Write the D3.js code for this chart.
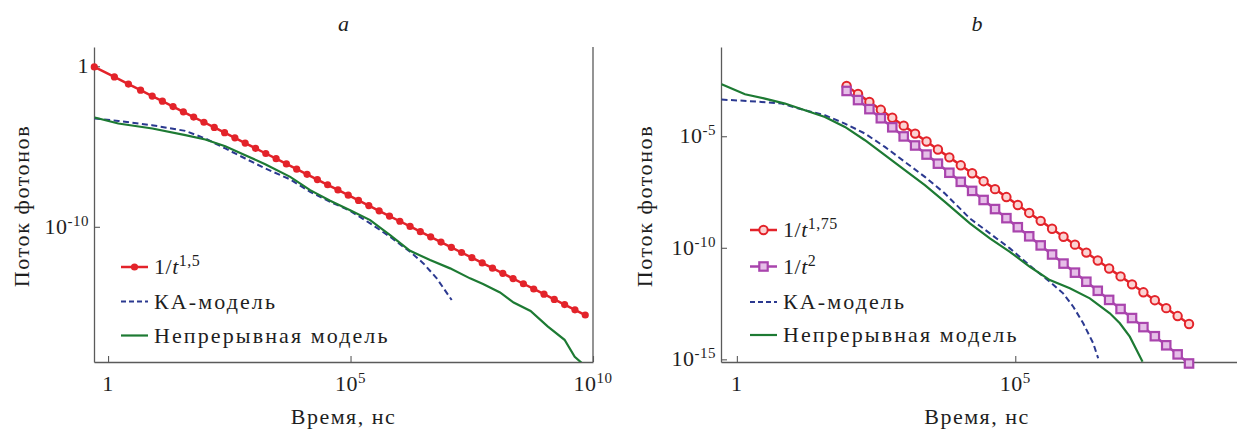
<!DOCTYPE html>
<html>
<head>
<meta charset="utf-8">
<script src="https://cdn.jsdelivr.net/npm/d3@7"></script>
<style>
  body { margin: 0; background: #fff; }
</style>
</head>
<body>
<script>
// #####################################################
// Values (time in ns, photon flux)
//
// panel a : 1/t^1.5 markers
var powA_time = [0.52, 1.35, 2.63, 4.68, 8.13, 13.2, 21.9, 35.7, 58.2, 94.9, 155, 253, 412, 672,
  1.10e3, 1.79e3, 2.92e3, 4.76e3, 7.76e3, 1.27e4, 2.07e4, 3.37e4, 5.50e4, 8.97e4,
  1.46e5, 2.38e5, 3.89e5, 6.35e5, 1.04e6, 1.69e6, 2.75e6, 4.49e6, 7.33e6,
  1.20e7, 1.95e7, 3.18e7, 5.19e7, 8.46e7, 1.38e8, 2.25e8, 3.67e8, 5.99e8, 9.77e8,
  1.59e9, 2.60e9, 4.24e9, 6.92e9];
var powA_flux = [0.91, 0.216, 0.0778, 0.0323, 0.0139, 6.64e-3, 3.06e-3, 1.45e-3, 6.87e-4, 3.25e-4,
  1.54e-4, 7.30e-5, 3.46e-5, 1.64e-5, 7.76e-6, 3.68e-6, 1.74e-6, 8.25e-7, 3.91e-7, 1.85e-7,
  8.77e-8, 4.15e-8, 1.97e-8, 9.32e-9, 4.42e-9, 2.09e-9, 9.91e-10, 4.69e-10, 2.22e-10, 1.05e-10,
  4.99e-11, 2.36e-11, 1.12e-11, 5.30e-12, 2.51e-12, 1.19e-12, 5.64e-13, 2.67e-13, 1.26e-13,
  5.99e-14, 2.84e-14, 1.34e-14, 6.37e-15, 3.02e-15, 1.43e-15, 6.77e-16, 3.21e-16];

// panel a : KA model (dashed)
var caA_time = [0.53, 1.65, 8.05, 39.1, 101, 261, 675, 1.74e3, 5.70e3, 1.47e4, 3.80e4, 9.82e4,
  2.54e5, 6.55e5, 1.69e6, 3.18e6, 6.00e6, 1.22e7];
var caA_flux = [5.56e-4, 3.94e-4, 2.13e-4, 9.42e-5, 3.17e-5, 7.57e-6, 1.80e-6, 4.31e-7, 8.91e-8,
  1.51e-8, 3.60e-9, 9.91e-10, 1.63e-10, 2.39e-11, 2.78e-12, 5.28e-13, 6.15e-14, 2.75e-15];

// panel a : continuous model
var contA_time = [0.53, 1.63, 8.18, 39.3, 101, 261, 675, 1.74e3, 5.70e3, 1.47e4, 3.80e4, 9.82e4,
  2.54e5, 6.55e5, 1.69e6, 4.37e6, 1.13e7, 2.91e7, 5.40e7, 1.21e8, 2.31e8, 5.15e8, 1.16e9,
  2.59e9, 4.20e9, 6.19e9];
var contA_flux = [6.46e-4, 2.72e-4, 1.33e-4, 5.08e-5, 2.75e-5, 1.05e-5, 2.90e-6, 7.98e-7, 1.29e-7,
  1.92e-8, 4.15e-9, 1.09e-9, 2.61e-10, 3.05e-11, 3.21e-12, 8.47e-13, 2.58e-13, 6.15e-14,
  2.76e-14, 8.17e-15, 1.92e-15, 5.68e-16, 6.34e-17, 9.16e-18, 8.02e-19, 2.86e-19];

// panel b : 1/t^1.75 and 1/t^2 markers (same times)
var powB_time = [93.5, 150, 240, 385, 618, 991, 1.59e3, 2.55e3, 4.08e3, 6.55e3, 1.05e4, 1.68e4,
  2.70e4, 4.33e4, 6.93e4, 1.11e5, 1.78e5, 2.86e5, 4.58e5, 7.35e5, 1.18e6, 1.89e6, 3.03e6,
  4.85e6, 7.78e6, 1.25e7, 2.00e7, 3.21e7, 5.14e7, 8.24e7, 1.32e8];
var pow175B_flux = [1.79e-3, 7.88e-4, 3.47e-4, 1.53e-4, 6.75e-5, 2.98e-5, 1.31e-5, 5.79e-6,
  2.55e-6, 1.13e-6, 4.97e-7, 2.19e-7, 9.66e-8, 4.26e-8, 1.88e-8, 8.28e-9, 3.65e-9, 1.61e-9,
  7.10e-10, 3.13e-10, 1.38e-10, 6.09e-11, 2.68e-11, 1.18e-11, 5.22e-12, 2.30e-12, 1.01e-12,
  4.48e-13, 1.97e-13, 8.70e-14, 3.84e-14];
var pow2B_flux = [1.07e-3, 4.18e-4, 1.64e-4, 6.41e-5, 2.51e-5, 9.83e-6, 3.85e-6, 1.51e-6,
  5.90e-7, 2.31e-7, 9.06e-8, 3.55e-8, 1.39e-8, 5.44e-9, 2.13e-9, 8.35e-10, 3.27e-10, 1.28e-10,
  5.01e-11, 1.96e-11, 7.69e-12, 3.01e-12, 1.18e-12, 4.62e-13, 1.81e-13, 7.09e-14, 2.78e-14,
  1.09e-14, 4.26e-15, 1.67e-15, 6.53e-16];

// panel b : KA model (dashed)
var caB_time = [0.53, 1.60, 6.37, 16.7, 38.2, 87.3, 200, 456, 1.04e3, 2.38e3, 5.45e3, 1.53e4,
  3.50e4, 8.00e4, 2.09e5, 4.18e5, 7.24e5, 1.10e6, 1.66e6, 2.51e6, 3.08e6];
var caB_flux = [4.40e-4, 3.80e-4, 2.91e-4, 1.46e-4, 8.71e-5, 3.70e-5, 1.32e-5, 3.32e-6, 7.08e-7,
  1.51e-7, 2.72e-8, 2.07e-9, 4.42e-10, 9.40e-11, 1.20e-11, 3.01e-12, 9.10e-13, 2.29e-13,
  4.13e-14, 5.26e-15, 1.12e-15];

// panel b : continuous model
var contB_time = [0.533, 1.40, 3.19, 7.31, 16.7, 38.2, 87.3, 200, 456, 1.04e3, 2.38e3, 5.45e3,
  1.53e4, 3.50e4, 8.00e4, 1.83e5, 4.18e5, 9.55e5, 2.18e6, 4.99e6, 7.55e6, 1.14e7, 1.51e7, 1.93e7];
var contB_flux = [2.13e-3, 7.59e-4, 4.88e-4, 2.91e-4, 1.46e-4, 7.31e-5, 2.61e-5, 6.62e-6,
  1.41e-6, 3.01e-7, 6.41e-8, 1.15e-8, 1.24e-9, 2.64e-10, 6.62e-11, 1.41e-11, 3.58e-12,
  1.52e-12, 5.43e-13, 1.16e-13, 4.13e-14, 1.04e-14, 2.64e-15, 7.89e-16];

// tick values
var xTicksA = [1, 1e5, 1e10];
var yTicksA = [1, 1e-10];
var xTicksB = [1, 1e5];
var yTicksB = [1e-5, 1e-10, 1e-15];

var xLabel = 'Время, нс';
var yLabel = 'Поток фотонов';

var red = '#e3232a', purple = '#a944ad', blue = '#2b3990', green = '#1d7a33', axisColor = '#5a5a5a';
var fontName = 'Liberation Serif';

var svg = d3.select('body').append('svg')
    .attr('width', 1237)
    .attr('height', 429);

// #####################################################
// New text straight on the svg root, serif font
//
function add_text (size, spacing) {
  return svg.append('text')
     .style('font-family', function () { return '"' + fontName + '", monospace'; })
     .style('font-size', size + 'px')
     .style('letter-spacing', (spacing || 0) + 'px')
     .style('fill', '#1e1e1e');
};

// #####################################################
// "10" with a superscript exponent, or "1"
//
function power_label (text, d) {
  var e = Math.round(Math.log10(d));
  if (e == 0) {
    text.append('tspan').text('1');
  } else {
    text.append('tspan').text('10');
    text.append('tspan').attr('dy', '-0.55em').style('font-size', '15px').text(String(e));
  }
};

// #####################################################
// Legend label: "1/" + italic t + superscript
//
function legend_text (text, item) {
  if (item.sup) {
    text.append('tspan').text('1/');
    text.append('tspan').style('font-style', 'italic').text('t');
    text.append('tspan').attr('dy', '-0.5em').style('font-size', '16px').style('letter-spacing', '0.5px').text(item.sup);
  } else {
    text.text(item.label);
  }
};

// #####################################################
// Draw one panel
//
function draw_panel (p) {
  var x = d3.scaleLog().domain(p.xDomain).range([p.left, p.right]);
  var y = d3.scaleLog().domain(p.yDomain).range([p.bottom, p.top]);
  var g = svg.append('g');

  g.append('clipPath').attr('id', p.id + 'clip')
    .append('rect')
      .attr('x', p.left).attr('y', p.top)
      .attr('width', p.right - p.left).attr('height', p.bottom - p.top);

  // axes with inward ticks, labels added below
  var gx = g.append('g')
      .attr('transform', 'translate(0,' + p.bottom + ')')
      .call(d3.axisBottom(x).tickValues(p.xTicks).tickSizeInner(-6).tickSizeOuter(0).tickFormat(''));
  var gy = g.append('g')
      .attr('transform', 'translate(' + p.left + ',0)')
      .call(d3.axisLeft(y).tickValues(p.yTicks).tickSizeInner(-6).tickSizeOuter(0).tickFormat(''));
  g.append('line')
      .attr('x1', p.right).attr('x2', p.right)
      .attr('y1', p.top).attr('y2', p.bottom)
      .style('stroke', axisColor).style('stroke-width', 1.3);

  [gx, gy].forEach(function (a) {
    a.selectAll('.tick text').remove();
    a.select('.domain').style('stroke', axisColor).style('stroke-width', 1.3);
    a.selectAll('.tick line').style('stroke', axisColor).style('stroke-width', 1.1);
  });

  p.xTicks.forEach(function (v) {
    var t = add_text(22, 0.5)
      .attr('x', x(v)).attr('y', p.bottom + 29)
      .style('text-anchor', 'middle');
    power_label(t, v);
  });
  p.yTicks.forEach(function (v) {
    var t = add_text(22, 0.5)
      .attr('x', p.left - 5).attr('y', y(v) + 7)
      .style('text-anchor', 'end');
    power_label(t, v);
  });

  // curves
  var line = d3.line()
      .x(function (d) { return x(d[0]); })
      .y(function (d) { return y(d[1]); });

  var curves = g.append('g').attr('clip-path', 'url(#' + p.id + 'clip)');
  p.series.forEach(function (s) {
    if (s.marker) return;
    curves.append('path')
      .datum(d3.zip(s.time, s.flux))
      .attr('d', line)
      .style('fill', 'none')
      .style('stroke', s.color)
      .style('stroke-width', s.width)
      .style('stroke-dasharray', s.dash || null);
  });

  p.series.forEach(function (s) {
    if (!s.marker) return;
    var pts = d3.zip(s.time, s.flux);
    g.append('path')
      .datum(pts)
      .attr('d', line)
      .style('fill', 'none')
      .style('stroke', s.color)
      .style('stroke-width', s.width);
    draw_markers(g, pts.map(function (d) { return [x(d[0]), y(d[1])]; }), s);
  });

  // legend
  p.series.forEach(function (s, i) {
    var ly = p.legendY[i];
    var lx = p.legendX;
    g.append('line')
      .attr('x1', lx).attr('x2', lx + 27)
      .attr('y1', ly).attr('y2', ly)
      .style('stroke', s.color)
      .style('stroke-width', s.width)
      .style('stroke-dasharray', s.dash ? '5,3' : null);
    if (s.marker) draw_markers(g, [[lx + 13.5, ly]], s);
    var t = add_text(22, s.sup ? 0.5 : 2.1)
      .attr('x', lx + 33).attr('y', ly + 7);
    legend_text(t, s);
  });

  // titles
  add_text(22, 0)
    .attr('x', p.titleX).attr('y', 31)
    .style('font-style', 'italic')
    .style('text-anchor', 'middle')
    .text(p.title);

  add_text(22, 1.5)
    .attr('x', p.titleX).attr('y', 424)
    .style('text-anchor', 'middle')
    .text(xLabel);

  add_text(22, 1.6)
    .attr('transform', 'translate(' + (p.yLabelX + 7) + ',206) rotate(-90)')
    .style('text-anchor', 'middle')
    .text(yLabel);
};

// #####################################################
// Markers
//
function draw_markers (g, pts, s) {
  if (s.marker == 'dot') {
    g.selectAll(null).data(pts).enter().append('circle')
      .attr('cx', function (d) { return d[0]; })
      .attr('cy', function (d) { return d[1]; })
      .attr('r', 3.6)
      .style('fill', s.color);
  } else if (s.marker == 'ring') {
    g.selectAll(null).data(pts).enter().append('circle')
      .attr('cx', function (d) { return d[0]; })
      .attr('cy', function (d) { return d[1]; })
      .attr('r', 4.2)
      .style('fill', '#fbd3d3')
      .style('stroke', s.color)
      .style('stroke-width', 2);
  } else if (s.marker == 'square') {
    g.selectAll(null).data(pts).enter().append('rect')
      .attr('x', function (d) { return d[0] - 4.2; })
      .attr('y', function (d) { return d[1] - 4.2; })
      .attr('width', 8.4).attr('height', 8.4)
      .style('fill', '#e6bfe8')
      .style('stroke', s.color)
      .style('stroke-width', 2.2);
  }
};

draw_panel({
  id: 'a', title: 'a', titleX: 343.5, yLabelX: 22,
  left: 94, right: 593, top: 47, bottom: 362,
  xDomain: [0.513, 1e10], yDomain: [3.8e-19, 15.8],
  xTicks: xTicksA, yTicks: yTicksA,
  legendX: 121, legendY: [267, 301.5, 335.5],
  series: [
    {sup: '1,5', time: powA_time, flux: powA_flux, color: red, width: 2.5, marker: 'dot'},
    {label: 'КА-модель', time: caA_time, flux: caA_flux, color: blue, width: 2, dash: '6,3.5'},
    {label: 'Непрерывная модель', time: contA_time, flux: contA_flux, color: green, width: 2.2}
  ]
});

draw_panel({
  id: 'b', title: 'b', titleX: 977, yLabelX: 645,
  left: 721, right: 1238, top: 47, bottom: 362,
  xDomain: [0.519, 1e9], yDomain: [7.6e-16, 0.1],
  xTicks: xTicksB, yTicks: yTicksB,
  legendX: 750, legendY: [230, 266.5, 302, 335],
  series: [
    {sup: '1,75', time: powB_time, flux: pow175B_flux, color: red, width: 2.5, marker: 'ring'},
    {sup: '2', time: powB_time, flux: pow2B_flux, color: purple, width: 2.5, marker: 'square'},
    {label: 'КА-модель', time: caB_time, flux: caB_flux, color: blue, width: 2, dash: '6,3.5'},
    {label: 'Непрерывная модель', time: contB_time, flux: contB_flux, color: green, width: 2.2}
  ]
});
</script>
</body>
</html>
